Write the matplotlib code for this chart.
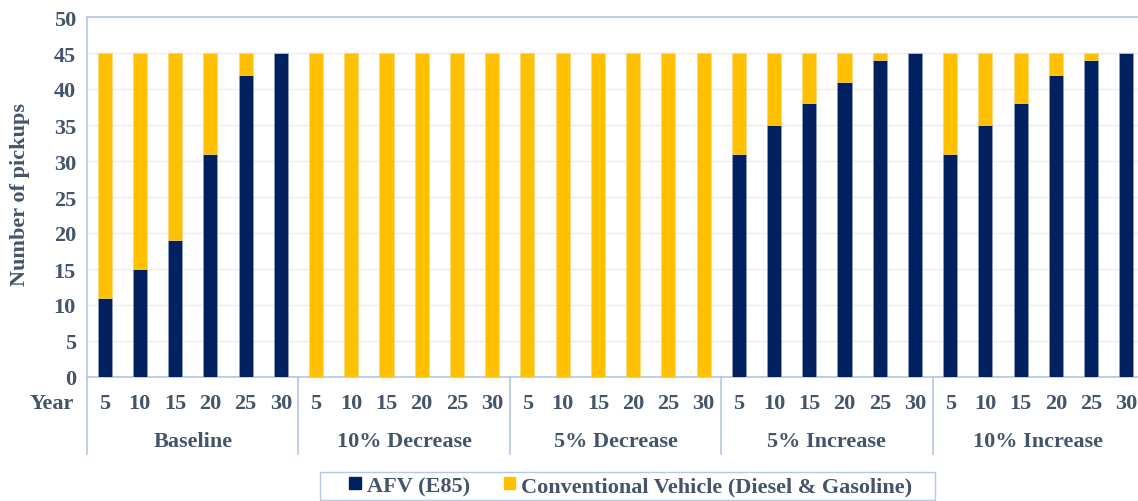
import matplotlib.pyplot as plt
from matplotlib.patches import Patch, Rectangle
from matplotlib.transforms import blended_transform_factory
import numpy as np

scenarios = ["Baseline", "10% Decrease", "5% Decrease", "5% Increase", "10% Increase"]
years = [5, 10, 15, 20, 25, 30]
total_pickups = 45

afv_baseline = [11, 15, 19, 31, 42, 45]
afv_dec10 = [0, 0, 0, 0, 0, 0]
afv_dec5 = [0, 0, 0, 0, 0, 0]
afv_inc5 = [31, 35, 38, 41, 44, 45]
afv_inc10 = [31, 35, 38, 42, 44, 45]

afv = np.array(afv_baseline + afv_dec10 + afv_dec5 + afv_inc5 + afv_inc10)
conv = total_pickups - afv

NAVY = "#002060"
GOLD = "#FFC000"
TEXT = "#44546A"
FRAME = "#B4C7E7"

plt.rcParams["font.family"] = ["Liberation Serif", "DejaVu Serif"]
plt.rcParams["font.weight"] = "bold"

W, H = 1138, 502
fig = plt.figure(figsize=(W / 100, H / 100), dpi=100)
ax = fig.add_axes([87 / W, 1 - 378 / H, (1144 - 87) / W, 360 / H])

x = np.arange(len(afv))
bw = 0.4
ax.bar(x, afv, bw, color=NAVY, edgecolor="#8FA5C8", linewidth=0.4, zorder=3,
       label="AFV (E85)")
ax.bar(x, conv, bw, bottom=afv, color=GOLD, edgecolor="#F5D77A", linewidth=0.4,
       zorder=3, label="Conventional Vehicle (Diesel & Gasoline)")

ax.set_xlim(-0.5, len(afv) - 0.5)
ax.set_ylim(0, 50)
ax.set_yticks(range(0, 51, 5))
ax.yaxis.grid(True, color="#EDEDED", linewidth=1, zorder=0)
ax.set_axisbelow(True)
ax.tick_params(axis="y", length=0, labelsize=16, labelcolor=TEXT, pad=8)
ax.tick_params(axis="x", length=0, labelbottom=False)
for s in ax.spines.values():
    s.set_color(FRAME)
    s.set_linewidth(1.2)

tr = blended_transform_factory(ax.transData, fig.transFigure)

def fy(py):
    return 1 - py / H

fig.text(20 / W, fy(195), "Number of pickups", rotation=90, ha="center",
         va="center", fontsize=16, color=TEXT, fontweight="bold")

# year labels under each bar
for i in x:
    ax.text(i, fy(404), str(years[i % len(years)]), transform=tr,
            ha="center", va="center", fontsize=16, color=TEXT, fontweight="bold")

# scenario group labels and separators
n = len(years)
for g, name in enumerate(scenarios):
    center = g * n + (n - 1) / 2
    ax.text(center, fy(442), name, transform=tr, ha="center", va="center",
            fontsize=16, color=TEXT, fontweight="bold")
for g in range(len(scenarios) + 1):
    xs = g * n - 0.5
    ax.plot([xs, xs], [fy(378), fy(455)], transform=tr, color=FRAME,
            linewidth=1.2, clip_on=False)

fig.text(52 / W, fy(404), "Year", ha="center", va="center", fontsize=16,
         color=TEXT, fontweight="bold")

# legend with a wider rectangular frame
handles = [Patch(facecolor=NAVY, edgecolor=NAVY, label="AFV (E85)"),
           Patch(facecolor=GOLD, edgecolor=GOLD,
                 label="Conventional Vehicle (Diesel & Gasoline)")]
leg = fig.legend(handles=handles, loc="center", bbox_to_anchor=(631 / W, fy(487)),
                 ncol=2, frameon=False, fontsize=16,
                 handlelength=0.5, handleheight=0.5, handletextpad=0.3,
                 columnspacing=1.5, borderpad=0.2, borderaxespad=0)
for t in leg.get_texts():
    t.set_color(TEXT)
    t.set_fontweight("bold")
fig.patches.append(Rectangle((320 / W, fy(501)), (935 - 320) / W, 28 / H,
                             transform=fig.transFigure, fill=False,
                             edgecolor=FRAME, linewidth=1.0))

fig.savefig("out.png", dpi=100)
